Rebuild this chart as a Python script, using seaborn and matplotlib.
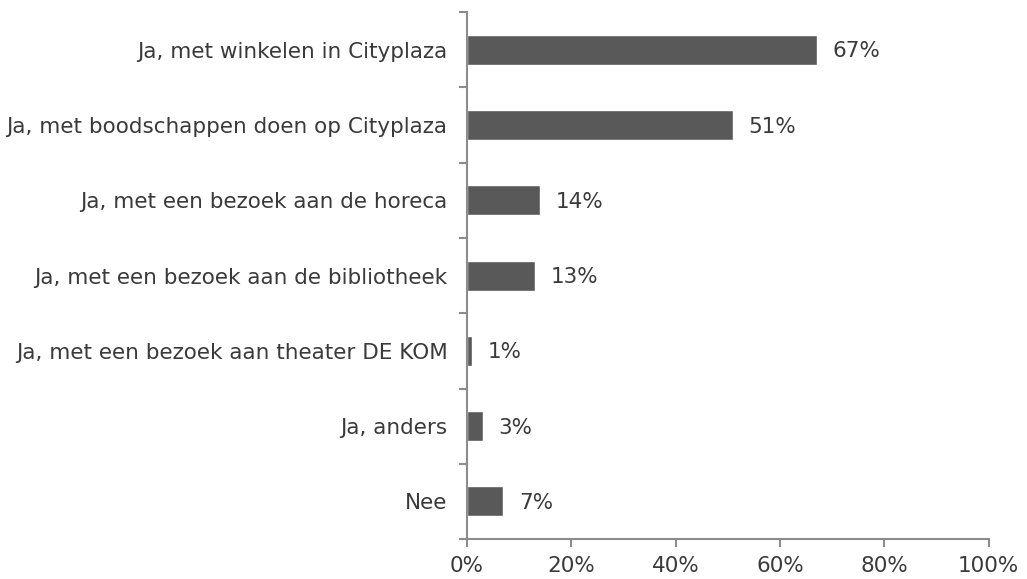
import matplotlib
matplotlib.use('Agg')
import matplotlib.pyplot as plt
import numpy as np
import pandas as pd
import seaborn as sns

categories = [
    "Ja, met winkelen in Cityplaza",
    "Ja, met boodschappen doen op Cityplaza",
    "Ja, met een bezoek aan de horeca",
    "Ja, met een bezoek aan de bibliotheek",
    "Ja, met een bezoek aan theater DE KOM",
    "Ja, anders",
    "Nee",
]
values = [67, 51, 14, 13, 1, 3, 7]
x_ticks = [0, 20, 40, 60, 80, 100]

sns.set_theme(style="white")
plt.rcParams['font.family'] = ['DejaVu Sans']

df = pd.DataFrame({"categorie": categories, "pct": values})

fig = plt.figure(figsize=(10.27, 5.79), dpi=100)
ax = fig.add_axes([0.4547, 0.069, 0.508, 0.910])

sns.barplot(data=df, y="categorie", x="pct", order=categories, color="#595959",
            saturation=1, width=0.40, ax=ax)

text_color = "#3a3a3a"
axis_color = "#8c8c8c"

for i, v in enumerate(values):
    ax.text(v + 3.0, i + 0.02, f"{v}%", va="center", ha="left", fontsize=15.5, color=text_color)

ax.set_xlim(0, 100)
ax.set_ylim(len(categories) - 0.5, -0.5)
ax.set_xticks(x_ticks)
ax.set_xticklabels([f"{t}%" for t in x_ticks], fontsize=15.5, color=text_color)

# category boundaries as major ticks, labels on minor ticks
ax.set_yticks(np.arange(-0.5, len(categories), 1.0))
ax.set_yticklabels([])
ax.set_yticks(np.arange(len(categories)), minor=True)
ax.set_yticklabels(categories, minor=True, fontsize=15.5, color=text_color)
ax.tick_params(axis="y", which="minor", length=0, pad=14)
ax.tick_params(axis="y", which="major", length=6, width=1.5, color=axis_color, left=True)
ax.tick_params(axis="x", length=6, width=1.5, color=axis_color, bottom=True, pad=6)

ax.set_xlabel("")
ax.set_ylabel("")
sns.despine(ax=ax, top=True, right=True)
for s in ["left", "bottom"]:
    ax.spines[s].set_color(axis_color)
    ax.spines[s].set_linewidth(1.5)

fig.savefig("out.png", dpi=100)
